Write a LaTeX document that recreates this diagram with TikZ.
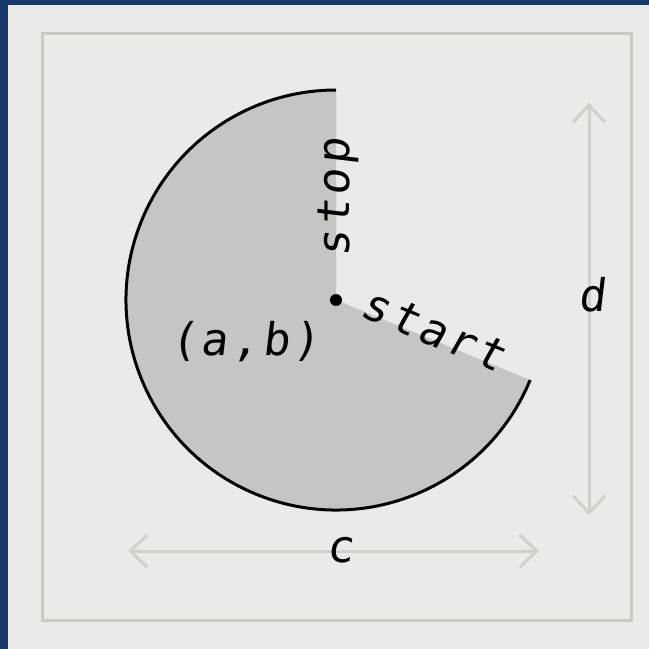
\documentclass[tikz,border=0pt]{standalone}
\usepackage{fontspec}
\setmainfont{DejaVu Sans Mono}
\newfontfamily\lblfont[LetterSpace=8,FakeSlant=0.12]{DejaVu Sans Mono}
\usetikzlibrary{arrows.meta}
\definecolor{paper}{HTML}{ECEAE6}
\definecolor{navy}{HTML}{173A6B}
\definecolor{framegray}{HTML}{CBC9C4}
\definecolor{arrowgray}{HTML}{D2D0CB}
\definecolor{sectorgray}{HTML}{C6C5C1}
\tikzset{
  framebox/.style={draw=framegray,line width=3pt},
  dimarrow/.style={draw=arrowgray,line width=3pt,{Straight Barb[length=17pt,width=32pt,line width=3pt]}-{Straight Barb[length=17pt,width=32pt,line width=3pt]}},
  lbl/.style={font=\lblfont\fontsize{45}{50}\selectfont,text=black,inner sep=0pt},
  arcline/.style={draw=black,line width=3pt},
}
\begin{document}
\begin{tikzpicture}[x=1pt,y=-1pt]
\useasboundingbox (0,0) rectangle (649,649);
\fill[navy] (0,0) rectangle (649,649);
\fill[paper] (8,5) rectangle (649,649);
\draw[framebox] (42,33) rectangle (631,620);
% sector
\coordinate (ctr) at (336,300);
\fill[sectorgray] (ctr) -- ++(22.4:210) arc[start angle=22.4,end angle=270,radius=210] -- cycle;
\draw[arcline] (ctr) ++(22.4:210) coordinate (startend) arc[start angle=22.4,end angle=270,radius=210] coordinate (stopend);
\node[circle,fill=black,inner sep=0pt,minimum size=12pt] (dot) at (ctr) {};
% labels
\node[lbl,rotate=90] (stop) at (338,198) {stop};
\node[lbl,rotate=-22.4] (start) at (434,330) {start};
\node[lbl] (ab) at (245,342) {(a,b)};
% dimension arrows
\coordinate (cl) at (128,551);
\coordinate (cr) at (539,551);
\coordinate (dt) at (589,103);
\coordinate (db) at (589,515);
\draw[dimarrow] (cl) -- (cr);
\draw[dimarrow] (dt) -- (db);
\node[lbl] (c) at (340,550) {c};
\node[lbl] (d) at (592,295) {d};
\end{tikzpicture}
\end{document}
